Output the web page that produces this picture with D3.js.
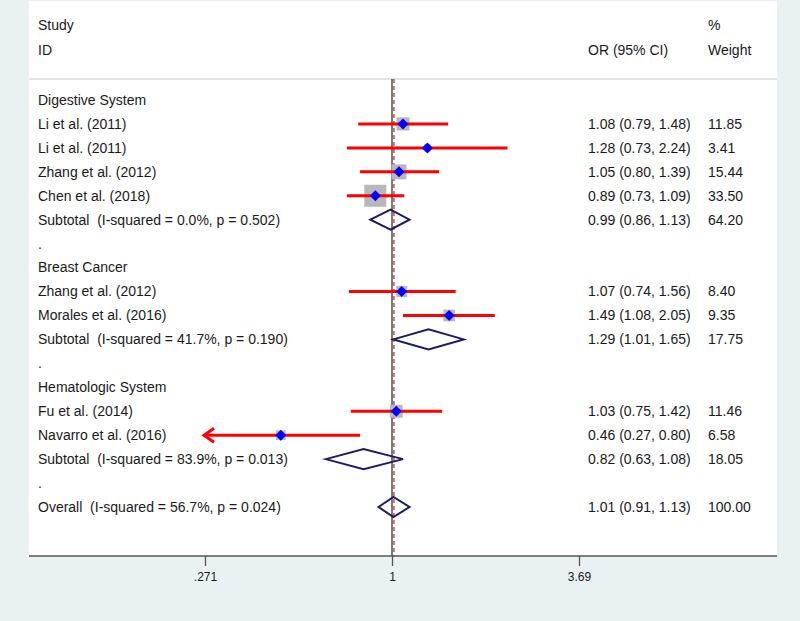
<!DOCTYPE html>
<html><head><meta charset="utf-8">
<script src="https://cdn.jsdelivr.net/npm/d3@7/dist/d3.min.js"></script>
<style>body{margin:0;background:#eaf1f3;}svg{display:block;}text{white-space:pre;}</style>
</head><body><svg id="c" width="800" height="621"></svg>
<script>
// ---- data ----
const labels = ["Digestive System","Li et al. (2011)","Li et al. (2011)","Zhang et al. (2012)","Chen et al. (2018)",
  "Subtotal  (I-squared = 0.0%, p = 0.502)",".","Breast Cancer","Zhang et al. (2012)","Morales et al. (2016)",
  "Subtotal  (I-squared = 41.7%, p = 0.190)",".","Hematologic System","Fu et al. (2014)","Navarro et al. (2016)",
  "Subtotal  (I-squared = 83.9%, p = 0.013)",".","Overall  (I-squared = 56.7%, p = 0.024)"];
const rowType = ["group","study","study","study","study","sub","dot","group","study","study","sub","dot","group","study","study","sub","dot","sub"];
const orVal  = [null,1.08,1.28,1.05,0.89,0.99,null,null,1.07,1.49,1.29,null,null,1.03,0.46,0.82,null,1.01];
const ciLow  = [null,0.79,0.73,0.80,0.73,0.86,null,null,0.74,1.08,1.01,null,null,0.75,0.27,0.63,null,0.91];
const ciHigh = [null,1.48,2.24,1.39,1.09,1.13,null,null,1.56,2.05,1.65,null,null,1.42,0.80,1.08,null,1.13];
const weight = [null,11.85,3.41,15.44,33.50,64.20,null,null,8.40,9.35,17.75,null,null,11.46,6.58,18.05,null,100.00];
const tickVals = [0.271, 1, 3.69];
const tickLabels = [".271", "1", "3.69"];
const overallOR = 1.01;

// ---- layout ----
const svg = d3.select("#c");
const font = "Liberation Sans, Arial, sans-serif";
const fs = 14;
const plotL = 29, plotR = 777, plotT = 1, axisY = 556;
const x = d3.scaleLog().domain([0.271, 3.69]).range([205, 579]);
const y = d3.scaleLinear().domain([0, 17]).range([100, 507]);
const boxSide = d3.scaleSqrt().domain([0, 33.5]).range([0, 22]);

svg.append("rect").attr("x", plotL).attr("y", plotT).attr("width", plotR - plotL).attr("height", axisY - plotT).attr("fill", "#fff");
svg.append("line").attr("x1", plotL).attr("x2", plotR).attr("y1", 79).attr("y2", 79).attr("stroke", "#c8c8c8").attr("stroke-width", 1);

// header
const hdr = [["Study", 38, 25], ["ID", 38, 50], ["%", 708, 25], ["OR (95% CI)", 588, 50], ["Weight", 708, 50]];
svg.selectAll("text.h").data(hdr).join("text").attr("class", "h")
  .attr("x", d => d[1]).attr("y", d => d[2]).attr("dy", "0.35em")
  .text(d => d[0]).attr("font-family", font).attr("font-size", fs).attr("fill", "#1a1a1a");

// reference lines
svg.append("line").attr("x1", x(1)).attr("x2", x(1)).attr("y1", 79).attr("y2", axisY)
  .attr("stroke", "#5a4a4a").attr("stroke-width", 1.5);
svg.append("line").attr("x1", x(overallOR) + 0.5).attr("x2", x(overallOR) + 0.5).attr("y1", 79).attr("y2", axisY)
  .attr("stroke", "#a04040").attr("stroke-width", 1.3).attr("stroke-dasharray", "4,3");

const rows = labels.map((l, i) => ({ i, label: l, type: rowType[i], or: orVal[i], lo: ciLow[i], hi: ciHigh[i], w: weight[i] }));

// row labels
svg.selectAll("text.lab").data(rows).join("text").attr("class", "lab")
  .attr("x", 38).attr("y", d => y(d.i)).attr("dy", "0.35em").text(d => d.label)
  .attr("font-family", font).attr("font-size", fs).attr("fill", "#1a1a1a");

const est = rows.filter(d => d.or != null);
const f2 = d3.format(".2f");
svg.selectAll("text.ci").data(est).join("text").attr("class", "ci")
  .attr("x", 588).attr("y", d => y(d.i)).attr("dy", "0.35em")
  .text(d => `${f2(d.or)} (${f2(d.lo)}, ${f2(d.hi)})`)
  .attr("font-family", font).attr("font-size", fs).attr("fill", "#1a1a1a");
svg.selectAll("text.wt").data(est).join("text").attr("class", "wt")
  .attr("x", 708).attr("y", d => y(d.i)).attr("dy", "0.35em").text(d => f2(d.w))
  .attr("font-family", font).attr("font-size", fs).attr("fill", "#1a1a1a");

const studies = rows.filter(d => d.type === "study");
const dmin = x.domain()[0];
// grey boxes
svg.selectAll("rect.box").data(studies).join("rect").attr("class", "box")
  .attr("x", d => x(d.or) - boxSide(d.w) / 2).attr("y", d => y(d.i) - boxSide(d.w) / 2)
  .attr("width", d => boxSide(d.w)).attr("height", d => boxSide(d.w)).attr("fill", "#b8b8b8");
// CI lines
svg.selectAll("line.ci").data(studies).join("line").attr("class", "ci")
  .attr("x1", d => x(Math.max(d.lo, dmin))).attr("x2", d => x(d.hi))
  .attr("y1", d => y(d.i)).attr("y2", d => y(d.i))
  .attr("stroke", "#ff0000").attr("stroke-width", 3);
// arrows for truncated CIs
svg.selectAll("path.arr").data(studies.filter(d => d.lo < dmin)).join("path").attr("class", "arr")
  .attr("d", d => { const ax = x(dmin) - 1, ay = y(d.i); return `M${ax + 10},${ay - 7}L${ax},${ay}L${ax + 10},${ay + 7}`; })
  .attr("fill", "none").attr("stroke", "#ff0000").attr("stroke-width", 3);
// blue diamonds
svg.selectAll("path.pt").data(studies).join("path").attr("class", "pt")
  .attr("d", d => { const cx = x(d.or), cy = y(d.i), s = 5.5; return `M${cx - s},${cy}L${cx},${cy - s}L${cx + s},${cy}L${cx},${cy + s}Z`; })
  .attr("fill", "#0000ff");
// summary diamonds
svg.selectAll("path.sum").data(rows.filter(d => d.type === "sub")).join("path").attr("class", "sum")
  .attr("d", d => { const cy = y(d.i), h = 10; return `M${x(d.lo)},${cy}L${x(d.or)},${cy - h}L${x(d.hi)},${cy}L${x(d.or)},${cy + h}Z`; })
  .attr("fill", "none").attr("stroke", "#1b1b66").attr("stroke-width", 2);

// axis
svg.append("line").attr("x1", plotL).attr("x2", plotR).attr("y1", axisY).attr("y2", axisY)
  .attr("stroke", "#555").attr("stroke-width", 1.5);
const ax = svg.append("g").attr("transform", `translate(0,${axisY})`)
  .call(d3.axisBottom(x).tickValues(tickVals).tickFormat((d, i) => tickLabels[i]).tickSize(10).tickSizeOuter(0));
ax.select(".domain").remove();
ax.selectAll(".tick line").attr("stroke", "#555").attr("stroke-width", 1.3);
ax.selectAll(".tick text").attr("y", 16).attr("font-family", font).attr("font-size", 12).attr("fill", "#1a1a1a");
</script></body></html>
